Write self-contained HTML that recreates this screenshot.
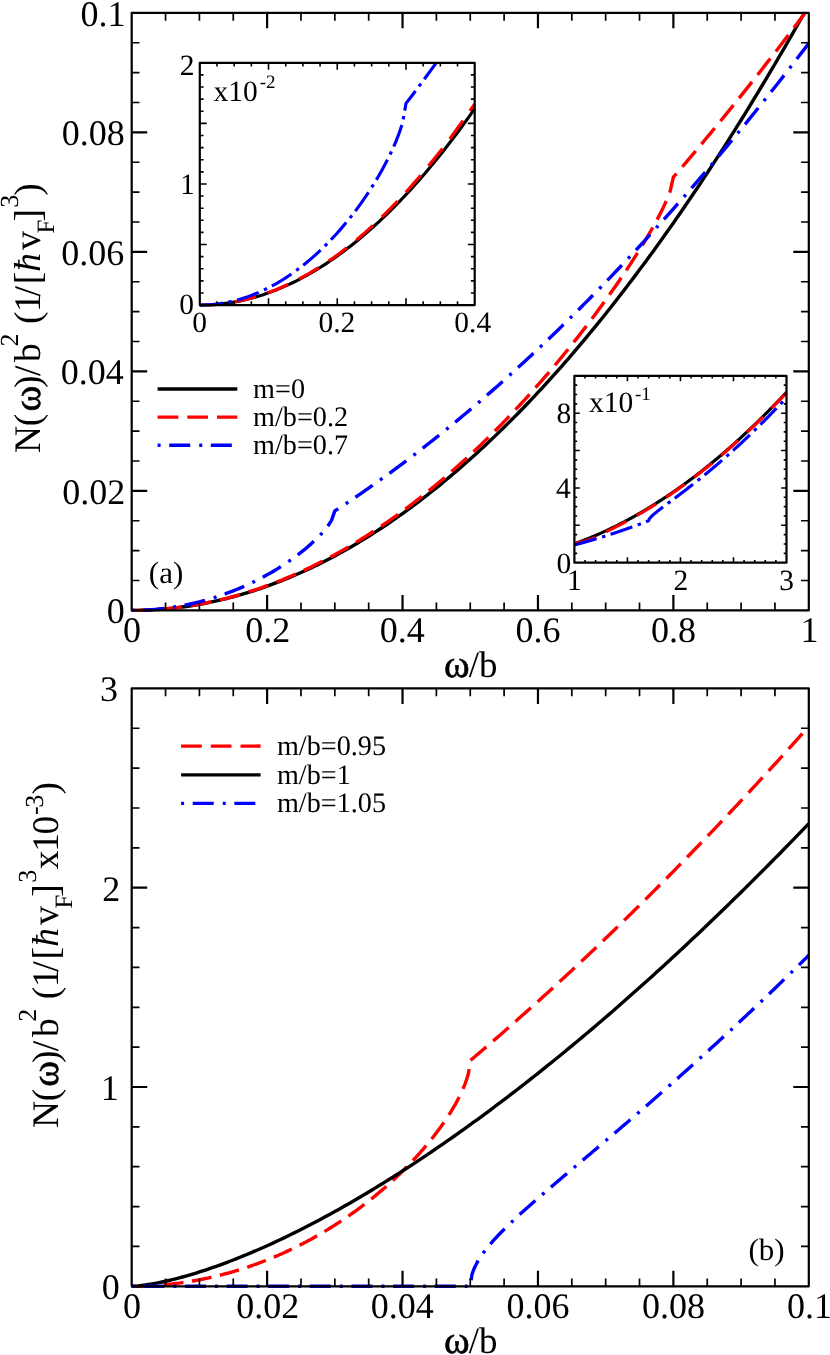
<!DOCTYPE html>
<html><head><meta charset="utf-8"><title>chart</title>
<style>html,body{margin:0;padding:0;background:#fff}svg{display:block;will-change:transform}</style></head>
<body>
<svg width="830" height="1355" viewBox="0 0 830 1355" font-family="'Liberation Serif', serif" fill="#000" text-rendering="geometricPrecision">
<rect width="830" height="1355" fill="#fff"/>
<clipPath id="c1"><rect x="130.00" y="12.85" width="680.50" height="599.25"/></clipPath>
<g clip-path="url(#c1)" fill="none" stroke-width="3.4" stroke-linejoin="round">
<polyline points="131.70,610.40 135.09,610.38 138.47,610.34 141.86,610.26 145.24,610.16 148.63,610.02 152.01,609.86 155.40,609.66 158.78,609.43 162.17,609.17 165.55,608.89 168.94,608.57 172.33,608.22 175.71,607.84 179.10,607.43 182.48,606.99 185.87,606.53 189.25,606.03 192.64,605.50 196.02,604.94 199.41,604.35 202.80,603.72 206.18,603.07 209.57,602.39 212.95,601.68 216.34,600.94 219.72,600.17 223.11,599.37 226.49,598.53 229.88,597.67 233.26,596.78 236.65,595.85 240.04,594.90 243.42,593.92 246.81,592.90 250.19,591.86 253.58,590.78 256.96,589.68 260.35,588.54 263.73,587.38 267.12,586.18 270.51,584.96 273.89,583.70 277.28,582.41 280.66,581.10 284.05,579.75 287.43,578.37 290.82,576.96 294.20,575.53 297.59,574.06 300.97,572.56 304.36,571.03 307.75,569.47 311.13,567.88 314.52,566.26 317.90,564.61 321.29,562.93 324.67,561.22 328.06,559.48 331.44,557.71 334.83,555.91 338.22,554.08 341.60,552.22 344.99,550.32 348.37,548.40 351.76,546.45 355.14,544.47 358.53,542.45 361.91,540.41 365.30,538.34 368.68,536.23 372.07,534.10 375.46,531.93 378.84,529.74 382.23,527.51 385.61,525.26 389.00,522.97 392.38,520.66 395.77,518.31 399.15,515.94 402.54,513.53 405.93,511.09 409.31,508.62 412.70,506.13 416.08,503.60 419.47,501.04 422.85,498.45 426.24,495.83 429.62,493.19 433.01,490.51 436.39,487.80 439.78,485.06 443.17,482.29 446.55,479.49 449.94,476.66 453.32,473.80 456.71,470.91 460.09,467.98 463.48,465.03 466.86,462.05 470.25,459.04 473.64,456.00 477.02,452.92 480.41,449.82 483.79,446.69 487.18,443.52 490.56,440.33 493.95,437.11 497.33,433.85 500.72,430.57 504.10,427.25 507.49,423.91 510.88,420.53 514.26,417.13 517.65,413.69 521.03,410.22 524.42,406.73 527.80,403.20 531.19,399.64 534.57,396.06 537.96,392.44 541.35,388.79 544.73,385.11 548.12,381.41 551.50,377.67 554.89,373.90 558.27,370.10 561.66,366.27 565.04,362.41 568.43,358.52 571.81,354.60 575.20,350.65 578.59,346.67 581.97,342.66 585.36,338.62 588.74,334.54 592.13,330.44 595.51,326.31 598.90,322.15 602.28,317.96 605.67,313.73 609.06,309.48 612.44,305.20 615.83,300.88 619.21,296.54 622.60,292.16 625.98,287.76 629.37,283.32 632.75,278.86 636.14,274.36 639.52,269.84 642.91,265.28 646.30,260.70 649.68,256.08 653.07,251.43 656.45,246.75 659.84,242.05 663.22,237.31 666.61,232.54 669.99,227.74 673.38,222.92 676.77,218.06 680.15,213.17 683.54,208.25 686.92,203.30 690.31,198.32 693.69,193.31 697.08,188.27 700.46,183.20 703.85,178.10 707.23,172.97 710.62,167.80 714.01,162.61 717.39,157.39 720.78,152.14 724.16,146.86 727.55,141.54 730.93,136.20 734.32,130.83 737.70,125.42 741.09,119.99 744.48,114.53 747.86,109.03 751.25,103.51 754.63,97.95 758.02,92.37 761.40,86.75 764.79,81.11 768.17,75.43 771.56,69.72 774.94,63.99 778.33,58.22 781.72,52.42 785.10,46.59 788.49,40.74 791.87,34.85 795.26,28.93 798.64,22.98 802.03,17.00 805.41,10.99 808.80,4.96" stroke="#000000"/>
<polyline points="131.70,610.40 135.09,610.38 138.47,610.34 141.86,610.26 145.24,610.15 148.63,610.01 152.01,609.84 155.40,609.64 158.78,609.41 162.17,609.15 165.55,608.86 168.94,608.53 172.33,608.18 175.71,607.79 179.10,607.37 182.48,606.92 185.87,606.44 189.25,605.93 192.64,605.39 196.02,604.82 199.41,604.22 202.80,603.59 206.18,602.92 209.57,602.23 212.95,601.50 216.34,600.74 219.72,599.95 223.11,599.13 226.49,598.28 229.88,597.40 233.26,596.49 236.65,595.55 240.04,594.57 243.42,593.57 246.81,592.53 250.19,591.46 253.58,590.36 256.96,589.24 260.35,588.07 263.73,586.88 267.12,585.66 270.51,584.41 273.89,583.12 277.28,581.81 280.66,580.46 284.05,579.08 287.43,577.67 290.82,576.23 294.20,574.76 297.59,573.26 300.97,571.72 304.36,570.16 307.75,568.56 311.13,566.93 314.52,565.28 317.90,563.59 321.29,561.86 324.67,560.11 328.06,558.33 331.44,556.51 334.83,554.67 338.22,552.79 341.60,550.88 344.99,548.94 348.37,546.97 351.76,544.96 355.14,542.93 358.53,540.86 361.91,538.76 365.30,536.63 368.68,534.47 372.07,532.28 375.46,530.05 378.84,527.80 382.23,525.51 385.61,523.19 389.00,520.84 392.38,518.45 395.77,516.04 399.15,513.59 402.54,511.11 405.93,508.60 409.31,506.06 412.70,503.48 416.08,500.88 419.47,498.24 422.85,495.57 426.24,492.86 429.62,490.13 433.01,487.36 436.39,484.56 439.78,481.72 443.17,478.86 446.55,475.96 449.94,473.03 453.32,470.06 456.71,467.07 460.09,464.04 463.48,460.97 466.86,457.88 470.25,454.75 473.64,451.59 477.02,448.39 480.41,445.16 483.79,441.90 487.18,438.60 490.56,435.27 493.95,431.90 497.33,428.50 500.72,425.07 504.10,421.60 507.49,418.10 510.88,414.56 514.26,410.99 517.65,407.38 521.03,403.74 524.42,400.06 527.80,396.35 531.19,392.60 534.57,388.81 537.96,384.99 541.35,381.12 544.73,377.23 548.12,373.29 551.50,369.32 554.89,365.30 558.27,361.25 561.66,357.16 565.04,353.03 568.43,348.86 571.81,344.64 575.20,340.39 578.59,336.09 581.97,331.75 585.36,327.36 588.74,322.93 592.13,318.45 595.51,313.93 598.90,309.35 602.28,304.72 605.67,300.05 609.06,295.31 612.44,290.52 615.83,285.67 619.21,280.76 622.60,275.79 625.98,270.74 629.37,265.62 632.75,260.41 636.14,255.12 639.52,249.74 642.91,244.24 646.30,238.62 649.68,232.86 653.07,226.94 656.45,220.80 659.84,214.40 663.22,207.64 666.61,200.31 669.99,191.93 673.38,177.18 676.77,173.25 680.15,169.30 683.54,165.33 686.92,161.35 690.31,157.36 693.69,153.35 697.08,149.32 700.46,145.28 703.85,141.23 707.23,137.16 710.62,133.07 714.01,128.97 717.39,124.86 720.78,120.73 724.16,116.58 727.55,112.42 730.93,108.24 734.32,104.05 737.70,99.84 741.09,95.62 744.48,91.38 747.86,87.13 751.25,82.86 754.63,78.58 758.02,74.28 761.40,69.97 764.79,65.64 768.17,61.30 771.56,56.94 774.94,52.56 778.33,48.18 781.72,43.77 785.10,39.35 788.49,34.92 791.87,30.47 795.26,26.00 798.64,21.52 802.03,17.03 805.41,12.52 808.80,7.99" stroke="#ff0000" stroke-dasharray="20.7 9"/>
<polyline points="131.70,610.40 135.09,610.38 138.47,610.32 141.86,610.21 145.24,610.06 148.63,609.87 152.01,609.64 155.40,609.36 158.78,609.04 162.17,608.68 165.55,608.28 168.94,607.83 172.33,607.34 175.71,606.80 179.10,606.23 182.48,605.61 185.87,604.94 189.25,604.23 192.64,603.48 196.02,602.68 199.41,601.84 202.80,600.95 206.18,600.02 209.57,599.04 212.95,598.01 216.34,596.94 219.72,595.82 223.11,594.65 226.49,593.44 229.88,592.18 233.26,590.86 236.65,589.50 240.04,588.09 243.42,586.62 246.81,585.11 250.19,583.53 253.58,581.91 256.96,580.23 260.35,578.49 263.73,576.69 267.12,574.84 270.51,572.92 273.89,570.94 277.28,568.89 280.66,566.77 284.05,564.58 287.43,562.32 290.82,559.97 294.20,557.54 297.59,555.02 300.97,552.40 304.36,549.68 307.75,546.83 311.13,543.85 314.52,540.72 317.90,537.40 321.29,533.85 324.67,530.00 328.06,525.70 331.44,520.59 334.83,510.92 338.22,508.71 341.60,506.49 344.99,504.25 348.37,501.99 351.76,499.72 355.14,497.43 358.53,495.12 361.91,492.79 365.30,490.45 368.68,488.09 372.07,485.72 375.46,483.33 378.84,480.92 382.23,478.49 385.61,476.05 389.00,473.59 392.38,471.12 395.77,468.62 399.15,466.11 402.54,463.59 405.93,461.04 409.31,458.49 412.70,455.91 416.08,453.32 419.47,450.71 422.85,448.08 426.24,445.44 429.62,442.78 433.01,440.11 436.39,437.42 439.78,434.71 443.17,431.98 446.55,429.24 449.94,426.48 453.32,423.71 456.71,420.92 460.09,418.11 463.48,415.29 466.86,412.45 470.25,409.60 473.64,406.72 477.02,403.84 480.41,400.93 483.79,398.01 487.18,395.07 490.56,392.12 493.95,389.15 497.33,386.17 500.72,383.16 504.10,380.15 507.49,377.11 510.88,374.06 514.26,370.99 517.65,367.91 521.03,364.81 524.42,361.70 527.80,358.57 531.19,355.42 534.57,352.25 537.96,349.08 541.35,345.88 544.73,342.67 548.12,339.44 551.50,336.20 554.89,332.94 558.27,329.66 561.66,326.37 565.04,323.06 568.43,319.74 571.81,316.40 575.20,313.04 578.59,309.67 581.97,306.28 585.36,302.88 588.74,299.46 592.13,296.02 595.51,292.57 598.90,289.10 602.28,285.62 605.67,282.12 609.06,278.60 612.44,275.07 615.83,271.52 619.21,267.96 622.60,264.38 625.98,260.79 629.37,257.17 632.75,253.55 636.14,249.91 639.52,246.25 642.91,242.57 646.30,238.88 649.68,235.18 653.07,231.46 656.45,227.72 659.84,223.96 663.22,220.20 666.61,216.41 669.99,212.61 673.38,208.79 676.77,204.96 680.15,201.11 683.54,197.25 686.92,193.37 690.31,189.47 693.69,185.56 697.08,181.64 700.46,177.69 703.85,173.74 707.23,169.76 710.62,165.77 714.01,161.77 717.39,157.75 720.78,153.71 724.16,149.66 727.55,145.59 730.93,141.50 734.32,137.40 737.70,133.29 741.09,129.16 744.48,125.01 747.86,120.85 751.25,116.67 754.63,112.48 758.02,108.27 761.40,104.04 764.79,99.80 768.17,95.54 771.56,91.27 774.94,86.99 778.33,82.68 781.72,78.36 785.10,74.03 788.49,69.68 791.87,65.31 795.26,60.93 798.64,56.53 802.03,52.12 805.41,47.69 808.80,43.25" stroke="#0000ff" stroke-dasharray="3 8.6 21 9.03"/>
</g>
<path d="M267.12 610.40L267.12 594.90M267.12 12.85L267.12 28.35M402.54 610.40L402.54 594.90M402.54 12.85L402.54 28.35M537.96 610.40L537.96 594.90M537.96 12.85L537.96 28.35M673.38 610.40L673.38 594.90M673.38 12.85L673.38 28.35M131.70 490.89L147.20 490.89M808.80 490.89L793.30 490.89M131.70 371.38L147.20 371.38M808.80 371.38L793.30 371.38M131.70 251.87L147.20 251.87M808.80 251.87L793.30 251.87M131.70 132.36L147.20 132.36M808.80 132.36L793.30 132.36" stroke="#000" stroke-width="2.2" fill="none"/>
<path d="M165.55 610.40L165.55 602.60M165.55 12.85L165.55 20.65M199.41 610.40L199.41 602.60M199.41 12.85L199.41 20.65M233.26 610.40L233.26 602.60M233.26 12.85L233.26 20.65M300.97 610.40L300.97 602.60M300.97 12.85L300.97 20.65M334.83 610.40L334.83 602.60M334.83 12.85L334.83 20.65M368.68 610.40L368.68 602.60M368.68 12.85L368.68 20.65M436.39 610.40L436.39 602.60M436.39 12.85L436.39 20.65M470.25 610.40L470.25 602.60M470.25 12.85L470.25 20.65M504.10 610.40L504.10 602.60M504.10 12.85L504.10 20.65M571.81 610.40L571.81 602.60M571.81 12.85L571.81 20.65M605.67 610.40L605.67 602.60M605.67 12.85L605.67 20.65M639.52 610.40L639.52 602.60M639.52 12.85L639.52 20.65M707.23 610.40L707.23 602.60M707.23 12.85L707.23 20.65M741.09 610.40L741.09 602.60M741.09 12.85L741.09 20.65M774.94 610.40L774.94 602.60M774.94 12.85L774.94 20.65M131.70 580.52L139.50 580.52M808.80 580.52L801.00 580.52M131.70 550.64L139.50 550.64M808.80 550.64L801.00 550.64M131.70 520.77L139.50 520.77M808.80 520.77L801.00 520.77M131.70 461.01L139.50 461.01M808.80 461.01L801.00 461.01M131.70 431.13L139.50 431.13M808.80 431.13L801.00 431.13M131.70 401.26L139.50 401.26M808.80 401.26L801.00 401.26M131.70 341.50L139.50 341.50M808.80 341.50L801.00 341.50M131.70 311.62L139.50 311.62M808.80 311.62L801.00 311.62M131.70 281.75L139.50 281.75M808.80 281.75L801.00 281.75M131.70 221.99L139.50 221.99M808.80 221.99L801.00 221.99M131.70 192.11L139.50 192.11M808.80 192.11L801.00 192.11M131.70 162.24L139.50 162.24M808.80 162.24L801.00 162.24M131.70 102.48L139.50 102.48M808.80 102.48L801.00 102.48M131.70 72.61L139.50 72.61M808.80 72.61L801.00 72.61M131.70 42.73L139.50 42.73M808.80 42.73L801.00 42.73" stroke="#000" stroke-width="1.7" fill="none"/>
<rect x="131.7" y="12.85" width="677.10" height="597.55" fill="none" stroke="#000" stroke-width="2.2" stroke-linejoin="round"/>
<text x="80.46" y="25.55" font-size="36">0.1</text>
<text x="61.67" y="145.06" font-size="36">0.08</text>
<text x="61.37" y="264.57" font-size="36">0.06</text>
<text x="60.86" y="384.08" font-size="36">0.04</text>
<text x="62.29" y="503.59" font-size="36">0.02</text>
<text x="106.67" y="623.10" font-size="36">0</text>
<text x="122.90" y="642.30" font-size="36">0</text>
<text x="245.13" y="642.30" font-size="36">0.2</text>
<text x="379.84" y="642.30" font-size="36">0.4</text>
<text x="515.51" y="642.30" font-size="36">0.6</text>
<text x="651.08" y="642.30" font-size="36">0.8</text>
<text x="800.50" y="642.30" font-size="36">1</text>
<clipPath id="c2"><rect x="198.23" y="62.80" width="278.05" height="243.88"/></clipPath>
<g clip-path="url(#c2)" fill="none" stroke-width="3.15" stroke-linejoin="round">
<polyline points="199.80,305.10 203.24,305.07 206.67,304.98 210.11,304.82 213.55,304.61 216.98,304.33 220.42,304.00 223.85,303.60 227.29,303.14 230.73,302.61 234.16,302.03 237.60,301.39 241.03,300.68 244.47,299.91 247.91,299.09 251.34,298.20 254.78,297.24 258.22,296.23 261.65,295.16 265.09,294.02 268.52,292.82 271.96,291.57 275.40,290.25 278.83,288.87 282.27,287.42 285.71,285.92 289.14,284.36 292.58,282.73 296.01,281.04 299.45,279.29 302.89,277.48 306.32,275.61 309.76,273.68 313.20,271.68 316.63,269.63 320.07,267.51 323.50,265.33 326.94,263.09 330.38,260.79 333.81,258.42 337.25,256.00 340.69,253.51 344.12,250.97 347.56,248.36 351.00,245.69 354.43,242.96 357.87,240.16 361.30,237.31 364.74,234.40 368.18,231.42 371.61,228.38 375.05,225.28 378.49,222.12 381.92,218.90 385.36,215.61 388.79,212.27 392.23,208.86 395.67,205.40 399.10,201.87 402.54,198.28 405.97,194.62 409.41,190.91 412.85,187.14 416.28,183.30 419.72,179.40 423.16,175.44 426.59,171.42 430.03,167.34 433.46,163.20 436.90,159.00 440.34,154.73 443.77,150.40 447.21,146.02 450.65,141.57 454.08,137.05 457.52,132.48 460.95,127.85 464.39,123.15 467.83,118.40 471.26,113.58 474.70,108.70" stroke="#000000"/>
<polyline points="199.80,305.10 203.24,305.07 206.67,304.97 210.11,304.82 213.55,304.60 216.98,304.32 220.42,303.97 223.85,303.57 227.29,303.10 230.73,302.56 234.16,301.97 237.60,301.31 241.03,300.59 244.47,299.81 247.91,298.96 251.34,298.05 254.78,297.08 258.22,296.05 261.65,294.95 265.09,293.79 268.52,292.57 271.96,291.28 275.40,289.94 278.83,288.53 282.27,287.05 285.71,285.52 289.14,283.92 292.58,282.26 296.01,280.53 299.45,278.75 302.89,276.90 306.32,274.98 309.76,273.01 313.20,270.97 316.63,268.87 320.07,266.71 323.50,264.48 326.94,262.19 330.38,259.84 333.81,257.42 337.25,254.94 340.69,252.40 344.12,249.80 347.56,247.13 351.00,244.40 354.43,241.60 357.87,238.75 361.30,235.82 364.74,232.84 368.18,229.79 371.61,226.68 375.05,223.51 378.49,220.28 381.92,216.98 385.36,213.61 388.79,210.19 392.23,206.70 395.67,203.14 399.10,199.53 402.54,195.85 405.97,192.10 409.41,188.29 412.85,184.42 416.28,180.49 419.72,176.49 423.16,172.43 426.59,168.30 430.03,164.11 433.46,159.86 436.90,155.54 440.34,151.16 443.77,146.71 447.21,142.20 450.65,137.63 454.08,132.99 457.52,128.28 460.95,123.52 464.39,118.68 467.83,113.79 471.26,108.83 474.70,103.80" stroke="#ff0000" stroke-dasharray="22.5 12.06"/>
<polyline points="199.80,305.10 203.24,305.06 206.67,304.93 210.11,304.71 213.55,304.41 216.98,304.03 220.42,303.55 223.85,302.99 227.29,302.35 230.73,301.61 234.16,300.79 237.60,299.89 241.03,298.89 244.47,297.81 247.91,296.64 251.34,295.38 254.78,294.03 258.22,292.59 261.65,291.07 265.09,289.45 268.52,287.74 271.96,285.94 275.40,284.05 278.83,282.06 282.27,279.98 285.71,277.81 289.14,275.54 292.58,273.18 296.01,270.71 299.45,268.15 302.89,265.49 306.32,262.73 309.76,259.86 313.20,256.89 316.63,253.82 320.07,250.63 323.50,247.34 326.94,243.93 330.38,240.40 333.81,236.76 337.25,233.00 340.69,229.11 344.12,225.09 347.56,220.94 351.00,216.64 354.43,212.20 357.87,207.61 361.30,202.86 364.74,197.93 368.18,192.82 371.61,187.51 375.05,181.98 378.49,176.22 381.92,170.18 385.36,163.82 388.79,157.09 392.23,149.90 395.67,142.09 399.10,133.37 402.54,123.01 405.97,103.40 409.41,98.93 412.85,94.42 416.28,89.88 419.72,85.31 423.16,80.70 426.59,76.05 430.03,71.37 433.46,66.66 436.90,61.91 440.34,57.13 443.77,52.32 447.21,47.47 450.65,42.58 454.08,37.67 457.52,32.71 460.95,27.73 464.39,22.71 467.83,17.65 471.26,12.57 474.70,7.45" stroke="#0000ff" stroke-dasharray="23 5.8 3.4 5.46"/>
</g>
<path d="M268.52 305.10L268.52 298.20M268.52 62.80L268.52 69.70M337.25 305.10L337.25 298.20M337.25 62.80L337.25 69.70M405.98 305.10L405.98 298.20M405.98 62.80L405.98 69.70M199.80 244.53L206.70 244.53M474.70 244.53L467.80 244.53M199.80 183.95L206.70 183.95M474.70 183.95L467.80 183.95M199.80 123.38L206.70 123.38M474.70 123.38L467.80 123.38" stroke="#000" stroke-width="1.6" fill="none"/>
<path d="M216.98 305.10L216.98 301.30M216.98 62.80L216.98 66.60M234.16 305.10L234.16 301.30M234.16 62.80L234.16 66.60M251.34 305.10L251.34 301.30M251.34 62.80L251.34 66.60M285.71 305.10L285.71 301.30M285.71 62.80L285.71 66.60M302.89 305.10L302.89 301.30M302.89 62.80L302.89 66.60M320.07 305.10L320.07 301.30M320.07 62.80L320.07 66.60M354.43 305.10L354.43 301.30M354.43 62.80L354.43 66.60M371.61 305.10L371.61 301.30M371.61 62.80L371.61 66.60M388.79 305.10L388.79 301.30M388.79 62.80L388.79 66.60M423.16 305.10L423.16 301.30M423.16 62.80L423.16 66.60M440.34 305.10L440.34 301.30M440.34 62.80L440.34 66.60M457.52 305.10L457.52 301.30M457.52 62.80L457.52 66.60M199.80 292.99L203.60 292.99M474.70 292.99L470.90 292.99M199.80 280.87L203.60 280.87M474.70 280.87L470.90 280.87M199.80 268.75L203.60 268.75M474.70 268.75L470.90 268.75M199.80 256.64L203.60 256.64M474.70 256.64L470.90 256.64M199.80 232.41L203.60 232.41M474.70 232.41L470.90 232.41M199.80 220.30L203.60 220.30M474.70 220.30L470.90 220.30M199.80 208.18L203.60 208.18M474.70 208.18L470.90 208.18M199.80 196.06L203.60 196.06M474.70 196.06L470.90 196.06M199.80 171.84L203.60 171.84M474.70 171.84L470.90 171.84M199.80 159.72L203.60 159.72M474.70 159.72L470.90 159.72M199.80 147.61L203.60 147.61M474.70 147.61L470.90 147.61M199.80 135.49L203.60 135.49M474.70 135.49L470.90 135.49M199.80 111.26L203.60 111.26M474.70 111.26L470.90 111.26M199.80 99.14L203.60 99.14M474.70 99.14L470.90 99.14M199.80 87.03L203.60 87.03M474.70 87.03L470.90 87.03M199.80 74.91L203.60 74.91M474.70 74.91L470.90 74.91" stroke="#000" stroke-width="1.6" fill="none"/>
<rect x="199.8" y="62.8" width="274.90" height="242.30" fill="none" stroke="#000" stroke-width="2.2" stroke-linejoin="round"/>
<text x="179.27" y="314.40" font-size="29.5">0</text>
<text x="179.92" y="194.00" font-size="29.5">1</text>
<text x="179.78" y="74.50" font-size="29.5">2</text>
<text x="192.32" y="331.70" font-size="29.5">0</text>
<text x="318.41" y="331.70" font-size="29.5">0.2</text>
<text x="454.33" y="331.70" font-size="29.5">0.4</text>
<text x="213.54" y="101.00" font-size="29.5">x10</text>
<text x="259.79" y="88.40" font-size="19">-2</text>
<clipPath id="c3"><rect x="572.82" y="375.80" width="215.25" height="188.48"/></clipPath>
<g clip-path="url(#c3)" fill="none" stroke-width="3.15" stroke-linejoin="round">
<polyline points="574.40,543.76 574.93,543.57 575.46,543.38 575.99,543.19 576.52,543.00 577.05,542.80 577.58,542.61 578.11,542.41 578.64,542.22 579.17,542.02 579.70,541.82 580.23,541.62 580.76,541.42 581.29,541.22 581.82,541.02 582.35,540.82 582.88,540.61 583.41,540.41 583.94,540.20 584.47,539.99 585.00,539.79 585.54,539.58 586.07,539.37 586.60,539.16 587.13,538.95 587.66,538.73 588.19,538.52 588.72,538.30 589.25,538.09 589.78,537.87 590.31,537.66 590.84,537.44 591.37,537.22 591.90,537.00 592.43,536.78 592.96,536.56 593.49,536.33 594.02,536.11 594.55,535.88 595.08,535.66 595.61,535.43 596.14,535.20 596.67,534.97 597.20,534.74 597.73,534.51 598.26,534.28 598.79,534.05 599.32,533.82 599.85,533.58 600.38,533.35 600.91,533.11 601.44,532.87 601.97,532.64 602.50,532.40 603.03,532.16 603.56,531.92 604.09,531.67 604.62,531.43 605.15,531.19 605.68,530.94 606.22,530.70 606.75,530.45 607.28,530.20 607.81,529.95 608.34,529.70 608.87,529.45 609.40,529.20 609.93,528.95 610.46,528.70 610.99,528.44 611.52,528.19 612.05,527.93 612.58,527.67 613.11,527.42 613.64,527.16 614.17,526.90 614.70,526.64 615.23,526.37 615.76,526.11 616.29,525.85 616.82,525.58 617.35,525.32 617.88,525.05 618.41,524.78 618.94,524.52 619.47,524.25 620.00,523.98 620.53,523.70 621.06,523.43 621.59,523.16 622.12,522.89 622.65,522.61 623.18,522.33 623.71,522.06 624.24,521.78 624.77,521.50 625.30,521.22 625.83,520.94 626.36,520.66 626.89,520.38 627.42,520.09 627.96,519.81 628.49,519.52 629.02,519.24 629.55,518.95 630.08,518.66 630.61,518.37 631.14,518.08 631.67,517.79 632.20,517.50 632.73,517.20 633.26,516.91 633.79,516.62 634.32,516.32 634.85,516.02 635.38,515.72 635.91,515.43 636.44,515.13 636.97,514.83 637.50,514.52 638.03,514.22 638.56,513.92 639.09,513.61 639.62,513.31 640.15,513.00 640.68,512.69 641.21,512.39 641.74,512.08 642.27,511.77 642.80,511.46 643.33,511.14 643.86,510.83 644.39,510.52 644.92,510.20 645.45,509.89 645.98,509.57 646.51,509.25 647.04,508.93 647.57,508.61 648.10,508.29 648.63,507.97 649.17,507.65 649.70,507.33 650.23,507.00 650.76,506.68 651.29,506.35 651.82,506.02 652.35,505.70 652.88,505.37 653.41,505.04 653.94,504.71 654.47,504.37 655.00,504.04 655.53,503.71 656.06,503.37 656.59,503.04 657.12,502.70 657.65,502.36 658.18,502.02 658.71,501.68 659.24,501.34 659.77,501.00 660.30,500.66 660.83,500.32 661.36,499.97 661.89,499.63 662.42,499.28 662.95,498.94 663.48,498.59 664.01,498.24 664.54,497.89 665.07,497.54 665.60,497.19 666.13,496.83 666.66,496.48 667.19,496.12 667.72,495.77 668.25,495.41 668.78,495.06 669.31,494.70 669.85,494.34 670.38,493.98 670.91,493.62 671.44,493.25 671.97,492.89 672.50,492.53 673.03,492.16 673.56,491.80 674.09,491.43 674.62,491.06 675.15,490.69 675.68,490.32 676.21,489.95 676.74,489.58 677.27,489.21 677.80,488.83 678.33,488.46 678.86,488.08 679.39,487.71 679.92,487.33 680.45,486.95 680.98,486.57 681.51,486.19 682.04,485.81 682.57,485.43 683.10,485.05 683.63,484.66 684.16,484.28 684.69,483.89 685.22,483.51 685.75,483.12 686.28,482.73 686.81,482.34 687.34,481.95 687.87,481.56 688.40,481.16 688.93,480.77 689.46,480.38 689.99,479.98 690.52,479.59 691.05,479.19 691.59,478.79 692.12,478.39 692.65,477.99 693.18,477.59 693.71,477.19 694.24,476.79 694.77,476.38 695.30,475.98 695.83,475.57 696.36,475.16 696.89,474.76 697.42,474.35 697.95,473.94 698.48,473.53 699.01,473.12 699.54,472.70 700.07,472.29 700.60,471.88 701.13,471.46 701.66,471.05 702.19,470.63 702.72,470.21 703.25,469.79 703.78,469.37 704.31,468.95 704.84,468.53 705.37,468.11 705.90,467.68 706.43,467.26 706.96,466.83 707.49,466.41 708.02,465.98 708.55,465.55 709.08,465.12 709.61,464.69 710.14,464.26 710.67,463.83 711.20,463.39 711.73,462.96 712.26,462.52 712.80,462.09 713.33,461.65 713.86,461.21 714.39,460.77 714.92,460.33 715.45,459.89 715.98,459.45 716.51,459.01 717.04,458.57 717.57,458.12 718.10,457.68 718.63,457.23 719.16,456.78 719.69,456.33 720.22,455.88 720.75,455.43 721.28,454.98 721.81,454.53 722.34,454.08 722.87,453.62 723.40,453.17 723.93,452.71 724.46,452.26 724.99,451.80 725.52,451.34 726.05,450.88 726.58,450.42 727.11,449.96 727.64,449.49 728.17,449.03 728.70,448.57 729.23,448.10 729.76,447.63 730.29,447.17 730.82,446.70 731.35,446.23 731.88,445.76 732.41,445.29 732.94,444.82 733.48,444.34 734.01,443.87 734.54,443.40 735.07,442.92 735.60,442.44 736.13,441.97 736.66,441.49 737.19,441.01 737.72,440.53 738.25,440.05 738.78,439.56 739.31,439.08 739.84,438.59 740.37,438.11 740.90,437.62 741.43,437.14 741.96,436.65 742.49,436.16 743.02,435.67 743.55,435.18 744.08,434.69 744.61,434.19 745.14,433.70 745.67,433.21 746.20,432.71 746.73,432.21 747.26,431.72 747.79,431.22 748.32,430.72 748.85,430.22 749.38,429.72 749.91,429.21 750.44,428.71 750.97,428.21 751.50,427.70 752.03,427.19 752.56,426.69 753.09,426.18 753.62,425.67 754.15,425.16 754.68,424.65 755.22,424.14 755.75,423.63 756.28,423.11 756.81,422.60 757.34,422.08 757.87,421.56 758.40,421.05 758.93,420.53 759.46,420.01 759.99,419.49 760.52,418.97 761.05,418.45 761.58,417.92 762.11,417.40 762.64,416.87 763.17,416.35 763.70,415.82 764.23,415.29 764.76,414.76 765.29,414.23 765.82,413.70 766.35,413.17 766.88,412.64 767.41,412.11 767.94,411.57 768.47,411.04 769.00,410.50 769.53,409.96 770.06,409.42 770.59,408.88 771.12,408.34 771.65,407.80 772.18,407.26 772.71,406.72 773.24,406.17 773.77,405.63 774.30,405.08 774.83,404.54 775.36,403.99 775.89,403.44 776.43,402.89 776.96,402.34 777.49,401.79 778.02,401.24 778.55,400.68 779.08,400.13 779.61,399.57 780.14,399.02 780.67,398.46 781.20,397.90 781.73,397.34 782.26,396.78 782.79,396.22 783.32,395.66 783.85,395.10 784.38,394.53 784.91,393.97 785.44,393.40 785.97,392.84 786.50,392.27" stroke="#000000"/>
<polyline points="574.40,543.86 574.93,543.72 575.46,543.57 575.99,543.43 576.52,543.29 577.05,543.14 577.58,543.00 578.11,542.85 578.64,542.71 579.17,542.56 579.70,542.42 580.23,542.27 580.76,542.12 581.29,541.97 581.82,541.83 582.35,541.68 582.88,541.53 583.41,541.38 583.94,541.23 584.47,541.08 585.00,540.93 585.54,540.78 586.07,540.62 586.60,540.47 587.13,540.32 587.66,540.16 588.19,540.01 588.72,539.86 589.25,539.70 589.78,539.55 590.31,539.39 590.84,539.23 591.37,539.08 591.90,538.92 592.43,538.76 592.96,538.60 593.49,538.45 594.02,538.29 594.55,538.13 595.08,537.97 595.61,537.81 596.14,537.13 596.67,536.75 597.20,536.41 597.73,536.10 598.26,535.80 598.79,535.51 599.32,535.23 599.85,534.95 600.38,534.67 600.91,534.40 601.44,534.13 601.97,533.86 602.50,533.59 603.03,533.33 603.56,533.06 604.09,532.80 604.62,532.53 605.15,532.27 605.68,532.01 606.22,531.74 606.75,531.48 607.28,531.22 607.81,530.95 608.34,530.69 608.87,530.43 609.40,530.16 609.93,529.90 610.46,529.63 610.99,529.37 611.52,529.10 612.05,528.83 612.58,528.56 613.11,528.30 613.64,528.03 614.17,527.76 614.70,527.49 615.23,527.22 615.76,526.95 616.29,526.68 616.82,526.40 617.35,526.13 617.88,525.86 618.41,525.58 618.94,525.31 619.47,525.03 620.00,524.76 620.53,524.48 621.06,524.20 621.59,523.92 622.12,523.64 622.65,523.36 623.18,523.08 623.71,522.80 624.24,522.51 624.77,522.23 625.30,521.95 625.83,521.66 626.36,521.37 626.89,521.09 627.42,520.80 627.96,520.51 628.49,520.22 629.02,519.93 629.55,519.64 630.08,519.35 630.61,519.05 631.14,518.76 631.67,518.46 632.20,518.17 632.73,517.87 633.26,517.57 633.79,517.28 634.32,516.98 634.85,516.68 635.38,516.38 635.91,516.07 636.44,515.77 636.97,515.47 637.50,515.16 638.03,514.86 638.56,514.55 639.09,514.24 639.62,513.94 640.15,513.63 640.68,513.32 641.21,513.01 641.74,512.70 642.27,512.38 642.80,512.07 643.33,511.75 643.86,511.44 644.39,511.12 644.92,510.81 645.45,510.49 645.98,510.17 646.51,509.85 647.04,509.53 647.57,509.21 648.10,508.88 648.63,508.56 649.17,508.24 649.70,507.91 650.23,507.59 650.76,507.26 651.29,506.93 651.82,506.60 652.35,506.27 652.88,505.94 653.41,505.61 653.94,505.28 654.47,504.94 655.00,504.61 655.53,504.27 656.06,503.94 656.59,503.60 657.12,503.26 657.65,502.92 658.18,502.58 658.71,502.24 659.24,501.90 659.77,501.56 660.30,501.21 660.83,500.87 661.36,500.52 661.89,500.18 662.42,499.83 662.95,499.48 663.48,499.13 664.01,498.78 664.54,498.43 665.07,498.08 665.60,497.72 666.13,497.37 666.66,497.02 667.19,496.66 667.72,496.30 668.25,495.95 668.78,495.59 669.31,495.23 669.85,494.87 670.38,494.51 670.91,494.14 671.44,493.78 671.97,493.42 672.50,493.05 673.03,492.68 673.56,492.32 674.09,491.95 674.62,491.58 675.15,491.21 675.68,490.84 676.21,490.47 676.74,490.10 677.27,489.72 677.80,489.35 678.33,488.97 678.86,488.60 679.39,488.22 679.92,487.84 680.45,487.46 680.98,487.08 681.51,486.70 682.04,486.32 682.57,485.94 683.10,485.55 683.63,485.17 684.16,484.78 684.69,484.39 685.22,484.01 685.75,483.62 686.28,483.23 686.81,482.84 687.34,482.45 687.87,482.05 688.40,481.66 688.93,481.27 689.46,480.87 689.99,480.48 690.52,480.08 691.05,479.68 691.59,479.28 692.12,478.88 692.65,478.48 693.18,478.08 693.71,477.68 694.24,477.27 694.77,476.87 695.30,476.46 695.83,476.06 696.36,475.65 696.89,475.24 697.42,474.83 697.95,474.42 698.48,474.01 699.01,473.60 699.54,473.19 700.07,472.77 700.60,472.36 701.13,471.94 701.66,471.53 702.19,471.11 702.72,470.69 703.25,470.27 703.78,469.85 704.31,469.43 704.84,469.01 705.37,468.58 705.90,468.16 706.43,467.73 706.96,467.31 707.49,466.88 708.02,466.45 708.55,466.02 709.08,465.59 709.61,465.16 710.14,464.73 710.67,464.30 711.20,463.86 711.73,463.43 712.26,462.99 712.80,462.56 713.33,462.12 713.86,461.68 714.39,461.24 714.92,460.80 715.45,460.36 715.98,459.92 716.51,459.47 717.04,459.03 717.57,458.59 718.10,458.14 718.63,457.69 719.16,457.24 719.69,456.80 720.22,456.35 720.75,455.90 721.28,455.44 721.81,454.99 722.34,454.54 722.87,454.08 723.40,453.63 723.93,453.17 724.46,452.71 724.99,452.26 725.52,451.80 726.05,451.34 726.58,450.88 727.11,450.41 727.64,449.95 728.17,449.49 728.70,449.02 729.23,448.56 729.76,448.09 730.29,447.62 730.82,447.15 731.35,446.68 731.88,446.21 732.41,445.74 732.94,445.27 733.48,444.80 734.01,444.32 734.54,443.85 735.07,443.37 735.60,442.89 736.13,442.42 736.66,441.94 737.19,441.46 737.72,440.98 738.25,440.49 738.78,440.01 739.31,439.53 739.84,439.04 740.37,438.56 740.90,438.07 741.43,437.58 741.96,437.10 742.49,436.61 743.02,436.12 743.55,435.62 744.08,435.13 744.61,434.64 745.14,434.14 745.67,433.65 746.20,433.15 746.73,432.66 747.26,432.16 747.79,431.66 748.32,431.16 748.85,430.66 749.38,430.16 749.91,429.66 750.44,429.15 750.97,428.65 751.50,428.14 752.03,427.64 752.56,427.13 753.09,426.62 753.62,426.11 754.15,425.60 754.68,425.09 755.22,424.58 755.75,424.06 756.28,423.55 756.81,423.04 757.34,422.52 757.87,422.00 758.40,421.49 758.93,420.97 759.46,420.45 759.99,419.93 760.52,419.41 761.05,418.88 761.58,418.36 762.11,417.84 762.64,417.31 763.17,416.78 763.70,416.26 764.23,415.73 764.76,415.20 765.29,414.67 765.82,414.14 766.35,413.61 766.88,413.07 767.41,412.54 767.94,412.01 768.47,411.47 769.00,410.93 769.53,410.40 770.06,409.86 770.59,409.32 771.12,408.78 771.65,408.24 772.18,407.69 772.71,407.15 773.24,406.61 773.77,406.06 774.30,405.52 774.83,404.97 775.36,404.42 775.89,403.87 776.43,403.32 776.96,402.77 777.49,402.22 778.02,401.67 778.55,401.11 779.08,400.56 779.61,400.00 780.14,399.45 780.67,398.89 781.20,398.33 781.73,397.77 782.26,397.21 782.79,396.65 783.32,396.09 783.85,395.52 784.38,394.96 784.91,394.40 785.44,393.83 785.97,393.26 786.50,392.69" stroke="#ff0000" stroke-dasharray="22.5 12.06"/>
<polyline points="574.40,544.96 574.93,544.82 575.46,544.68 575.99,544.54 576.52,544.40 577.05,544.26 577.58,544.12 578.11,543.97 578.64,543.83 579.17,543.69 579.70,543.54 580.23,543.40 580.76,543.25 581.29,543.11 581.82,542.96 582.35,542.82 582.88,542.67 583.41,542.52 583.94,542.38 584.47,542.23 585.00,542.08 585.54,541.93 586.07,541.78 586.60,541.63 587.13,541.48 587.66,541.33 588.19,541.18 588.72,541.02 589.25,540.87 589.78,540.72 590.31,540.56 590.84,540.41 591.37,540.26 591.90,540.10 592.43,539.95 592.96,539.79 593.49,539.63 594.02,539.48 594.55,539.32 595.08,539.16 595.61,539.00 596.14,538.84 596.67,538.68 597.20,538.52 597.73,538.36 598.26,538.20 598.79,538.04 599.32,537.88 599.85,537.72 600.38,537.55 600.91,537.39 601.44,537.23 601.97,537.06 602.50,536.90 603.03,536.73 603.56,536.57 604.09,536.40 604.62,536.24 605.15,536.07 605.68,535.90 606.22,535.73 606.75,535.56 607.28,535.39 607.81,535.23 608.34,535.06 608.87,534.88 609.40,534.71 609.93,534.54 610.46,534.37 610.99,534.20 611.52,534.02 612.05,533.85 612.58,533.68 613.11,533.50 613.64,533.33 614.17,533.15 614.70,532.98 615.23,532.80 615.76,532.62 616.29,532.45 616.82,532.27 617.35,532.09 617.88,531.91 618.41,531.73 618.94,531.55 619.47,531.37 620.00,531.19 620.53,531.01 621.06,530.83 621.59,530.65 622.12,530.47 622.65,530.28 623.18,530.10 623.71,529.91 624.24,529.73 624.77,529.55 625.30,529.36 625.83,529.17 626.36,528.99 626.89,528.80 627.42,528.61 627.96,528.43 628.49,528.24 629.02,528.05 629.55,527.86 630.08,527.67 630.61,527.48 631.14,527.29 631.67,527.10 632.20,526.91 632.73,526.71 633.26,526.52 633.79,526.33 634.32,526.13 634.85,525.94 635.38,525.75 635.91,525.55 636.44,525.36 636.97,525.16 637.50,524.96 638.03,524.77 638.56,524.57 639.09,524.37 639.62,524.17 640.15,523.97 640.68,523.77 641.21,523.57 641.74,523.37 642.27,523.17 642.80,522.97 643.33,522.77 643.86,522.57 644.39,522.36 644.92,522.16 645.45,521.96 645.98,521.75 646.51,521.55 647.04,521.34 647.57,521.14 648.10,520.93 648.63,520.73 649.17,519.17 649.70,518.39 650.23,517.74 650.76,517.15 651.29,516.60 651.82,516.08 652.35,515.58 652.88,515.10 653.41,514.63 653.94,514.17 654.47,513.72 655.00,513.28 655.53,512.84 656.06,512.41 656.59,511.98 657.12,511.56 657.65,511.14 658.18,510.72 658.71,510.31 659.24,509.89 659.77,509.48 660.30,509.08 660.83,508.67 661.36,508.27 661.89,507.86 662.42,507.46 662.95,507.06 663.48,506.66 664.01,506.26 664.54,505.86 665.07,505.46 665.60,505.06 666.13,504.67 666.66,504.27 667.19,503.87 667.72,503.48 668.25,503.08 668.78,502.69 669.31,502.29 669.85,501.89 670.38,501.50 670.91,501.10 671.44,500.71 671.97,500.31 672.50,499.91 673.03,499.52 673.56,499.12 674.09,498.72 674.62,498.33 675.15,497.93 675.68,497.53 676.21,497.13 676.74,496.74 677.27,496.34 677.80,495.94 678.33,495.54 678.86,495.14 679.39,494.74 679.92,494.34 680.45,493.93 680.98,493.53 681.51,493.13 682.04,492.73 682.57,492.32 683.10,491.92 683.63,491.51 684.16,491.11 684.69,490.70 685.22,490.29 685.75,489.89 686.28,489.48 686.81,489.07 687.34,488.66 687.87,488.25 688.40,487.84 688.93,487.43 689.46,487.02 689.99,486.61 690.52,486.19 691.05,485.78 691.59,485.37 692.12,484.95 692.65,484.53 693.18,484.12 693.71,483.70 694.24,483.28 694.77,482.86 695.30,482.45 695.83,482.02 696.36,481.60 696.89,481.18 697.42,480.76 697.95,480.34 698.48,479.91 699.01,479.49 699.54,479.06 700.07,478.64 700.60,478.21 701.13,477.78 701.66,477.35 702.19,476.92 702.72,476.49 703.25,476.06 703.78,475.63 704.31,475.20 704.84,474.77 705.37,474.33 705.90,473.90 706.43,473.46 706.96,473.02 707.49,472.59 708.02,472.15 708.55,471.71 709.08,471.27 709.61,470.83 710.14,470.39 710.67,469.95 711.20,469.50 711.73,469.06 712.26,468.61 712.80,468.17 713.33,467.72 713.86,467.27 714.39,466.83 714.92,466.38 715.45,465.93 715.98,465.48 716.51,465.03 717.04,464.57 717.57,464.12 718.10,463.67 718.63,463.21 719.16,462.76 719.69,462.30 720.22,461.84 720.75,461.38 721.28,460.92 721.81,460.46 722.34,460.00 722.87,459.54 723.40,459.08 723.93,458.61 724.46,458.15 724.99,457.68 725.52,457.22 726.05,456.75 726.58,456.28 727.11,455.82 727.64,455.35 728.17,454.88 728.70,454.40 729.23,453.93 729.76,453.46 730.29,452.98 730.82,452.51 731.35,452.03 731.88,451.56 732.41,451.08 732.94,450.60 733.48,450.12 734.01,449.64 734.54,449.16 735.07,448.68 735.60,448.20 736.13,447.71 736.66,447.23 737.19,446.74 737.72,446.25 738.25,445.77 738.78,445.28 739.31,444.79 739.84,444.30 740.37,443.81 740.90,443.32 741.43,442.82 741.96,442.33 742.49,441.84 743.02,441.34 743.55,440.84 744.08,440.35 744.61,439.85 745.14,439.35 745.67,438.85 746.20,438.35 746.73,437.85 747.26,437.35 747.79,436.84 748.32,436.34 748.85,435.83 749.38,435.33 749.91,434.82 750.44,434.31 750.97,433.80 751.50,433.29 752.03,432.78 752.56,432.27 753.09,431.76 753.62,431.24 754.15,430.73 754.68,430.21 755.22,429.70 755.75,429.18 756.28,428.66 756.81,428.14 757.34,427.62 757.87,427.10 758.40,426.58 758.93,426.06 759.46,425.53 759.99,425.01 760.52,424.48 761.05,423.96 761.58,423.43 762.11,422.90 762.64,422.37 763.17,421.84 763.70,421.31 764.23,420.78 764.76,420.25 765.29,419.71 765.82,419.18 766.35,418.64 766.88,418.11 767.41,417.57 767.94,417.03 768.47,416.49 769.00,415.95 769.53,415.41 770.06,414.87 770.59,414.33 771.12,413.78 771.65,413.24 772.18,412.69 772.71,412.15 773.24,411.60 773.77,411.05 774.30,410.50 774.83,409.95 775.36,409.40 775.89,408.85 776.43,408.30 776.96,407.74 777.49,407.19 778.02,406.63 778.55,406.08 779.08,405.52 779.61,404.96 780.14,404.40 780.67,403.84 781.20,403.28 781.73,402.72 782.26,402.15 782.79,401.59 783.32,401.02 783.85,400.46 784.38,399.89 784.91,399.32 785.44,398.75 785.97,398.18 786.50,397.61" stroke="#0000ff" stroke-dasharray="23 5.8 3.4 5.46"/>
</g>
<path d="M627.42 562.70L627.42 557.30M627.42 375.80L627.42 381.20M680.45 562.70L680.45 557.30M680.45 375.80L680.45 381.20M733.48 562.70L733.48 557.30M733.48 375.80L733.48 381.20M574.40 525.32L579.80 525.32M786.50 525.32L781.10 525.32M574.40 487.94L579.80 487.94M786.50 487.94L781.10 487.94M574.40 450.56L579.80 450.56M786.50 450.56L781.10 450.56M574.40 413.18L579.80 413.18M786.50 413.18L781.10 413.18" stroke="#000" stroke-width="1.6" fill="none"/>
<path d="M585.00 562.70L585.00 559.90M585.00 375.80L585.00 378.60M595.61 562.70L595.61 559.90M595.61 375.80L595.61 378.60M606.22 562.70L606.22 559.90M606.22 375.80L606.22 378.60M616.82 562.70L616.82 559.90M616.82 375.80L616.82 378.60M638.03 562.70L638.03 559.90M638.03 375.80L638.03 378.60M648.63 562.70L648.63 559.90M648.63 375.80L648.63 378.60M659.24 562.70L659.24 559.90M659.24 375.80L659.24 378.60M669.85 562.70L669.85 559.90M669.85 375.80L669.85 378.60M691.05 562.70L691.05 559.90M691.05 375.80L691.05 378.60M701.66 562.70L701.66 559.90M701.66 375.80L701.66 378.60M712.26 562.70L712.26 559.90M712.26 375.80L712.26 378.60M722.87 562.70L722.87 559.90M722.87 375.80L722.87 378.60M744.08 562.70L744.08 559.90M744.08 375.80L744.08 378.60M754.68 562.70L754.68 559.90M754.68 375.80L754.68 378.60M765.29 562.70L765.29 559.90M765.29 375.80L765.29 378.60M775.89 562.70L775.89 559.90M775.89 375.80L775.89 378.60M574.40 553.36L577.20 553.36M786.50 553.36L783.70 553.36M574.40 544.01L577.20 544.01M786.50 544.01L783.70 544.01M574.40 534.67L577.20 534.67M786.50 534.67L783.70 534.67M574.40 515.98L577.20 515.98M786.50 515.98L783.70 515.98M574.40 506.63L577.20 506.63M786.50 506.63L783.70 506.63M574.40 497.29L577.20 497.29M786.50 497.29L783.70 497.29M574.40 478.60L577.20 478.60M786.50 478.60L783.70 478.60M574.40 469.25L577.20 469.25M786.50 469.25L783.70 469.25M574.40 459.91L577.20 459.91M786.50 459.91L783.70 459.91M574.40 441.22L577.20 441.22M786.50 441.22L783.70 441.22M574.40 431.87L577.20 431.87M786.50 431.87L783.70 431.87M574.40 422.53L577.20 422.53M786.50 422.53L783.70 422.53M574.40 403.84L577.20 403.84M786.50 403.84L783.70 403.84M574.40 394.49L577.20 394.49M786.50 394.49L783.70 394.49M574.40 385.14L577.20 385.14M786.50 385.14L783.70 385.14" stroke="#000" stroke-width="1.6" fill="none"/>
<rect x="574.4" y="375.8" width="212.10" height="186.90" fill="none" stroke="#000" stroke-width="2.2" stroke-linejoin="round"/>
<text x="556.57" y="572.90" font-size="29.5">0</text>
<text x="555.91" y="498.14" font-size="29.5">4</text>
<text x="556.57" y="423.38" font-size="29.5">8</text>
<text x="566.91" y="590.40" font-size="29.5">1</text>
<text x="673.54" y="590.40" font-size="29.5">2</text>
<text x="779.30" y="590.40" font-size="29.5">3</text>
<text x="588.94" y="412.20" font-size="29.5">x10</text>
<text x="634.99" y="400.40" font-size="19">-1</text>
<line x1="157.6" y1="389" x2="237.3" y2="389" stroke="#000000" stroke-width="3.4"/>
<text x="253.11" y="397.80" font-size="28.2">m=0</text>
<line x1="157.6" y1="417.1" x2="237.3" y2="417.1" stroke="#ff0000" stroke-width="3.4" stroke-dasharray="20.7 9"/>
<text x="253.11" y="425.90" font-size="28.2">m/b=0.2</text>
<line x1="157.6" y1="445.2" x2="237.3" y2="445.2" stroke="#0000ff" stroke-width="3.4" stroke-dasharray="3 8.6 21 9.03"/>
<text x="253.11" y="454.00" font-size="28.2">m/b=0.7</text>
<text x="148.84" y="583.00" font-size="31">(a)</text>
<text x="444.08" y="676.90" font-size="39" stroke="#000" stroke-width="0.6">ω</text>
<text x="468.80" y="676.90" font-size="37">/b</text>
<g transform="translate(39.8,451.9) rotate(-90)">
<text x="-1.08" y="0.00" font-size="37.5">N</text>
<text x="25.75" y="0.00" font-size="37.5">(</text>
<text x="40.38" y="0.00" font-size="39" stroke="#000" stroke-width="0.6">ω</text>
<text x="63.99" y="0.00" font-size="37.5">)</text>
<text x="75.80" y="0.00" font-size="37.5">/</text>
<text x="90.00" y="0.00" font-size="37.5">b</text>
<text x="105.36" y="-22.10" font-size="26">2</text>
<text x="127.85" y="0.00" font-size="37.5">(</text>
<text x="140.00" y="0.00" font-size="37.5">1</text>
<text x="155.30" y="0.00" font-size="37.5">/</text>
<text x="167.62" y="0.00" font-size="37.5">[</text>
<text x="180.25" y="0.00" font-size="37.5" font-style="italic">ħ</text>
<text x="201.90" y="0.00" font-size="38">v</text>
<text x="218.48" y="14.00" font-size="25">F</text>
<text x="230.35" y="0.00" font-size="37.5">]</text>
<text x="244.26" y="-22.10" font-size="26">3</text>
<text x="256.19" y="0.00" font-size="37.5">)</text>
</g>
<clipPath id="c4"><rect x="130.00" y="688.40" width="680.50" height="599.60"/></clipPath>
<g clip-path="url(#c4)" fill="none" stroke-width="3.4" stroke-linejoin="round">
<polyline points="131.70,1286.30 133.39,1286.30 135.09,1286.28 136.78,1286.26 138.47,1286.24 140.16,1286.20 141.86,1286.15 143.55,1286.10 145.24,1286.04 146.93,1285.97 148.63,1285.90 150.32,1285.81 152.01,1285.72 153.71,1285.62 155.40,1285.51 157.09,1285.39 158.78,1285.26 160.48,1285.13 162.17,1284.99 163.86,1284.84 165.55,1284.68 167.25,1284.52 168.94,1284.34 170.63,1284.16 172.33,1283.97 174.02,1283.77 175.71,1283.56 177.40,1283.35 179.10,1283.12 180.79,1282.89 182.48,1282.65 184.18,1282.40 185.87,1282.15 187.56,1281.88 189.25,1281.61 190.95,1281.33 192.64,1281.04 194.33,1280.74 196.02,1280.44 197.72,1280.12 199.41,1279.80 201.10,1279.47 202.80,1279.13 204.49,1278.78 206.18,1278.43 207.87,1278.06 209.57,1277.69 211.26,1277.31 212.95,1276.92 214.64,1276.52 216.34,1276.12 218.03,1275.70 219.72,1275.28 221.42,1274.85 223.11,1274.41 224.80,1273.96 226.49,1273.50 228.19,1273.04 229.88,1272.56 231.57,1272.08 233.26,1271.59 234.96,1271.09 236.65,1270.58 238.34,1270.06 240.04,1269.53 241.73,1269.00 243.42,1268.45 245.11,1267.90 246.81,1267.34 248.50,1266.77 250.19,1266.19 251.89,1265.60 253.58,1265.00 255.27,1264.40 256.96,1263.78 258.66,1263.16 260.35,1262.53 262.04,1261.88 263.73,1261.23 265.43,1260.57 267.12,1259.90 268.81,1259.22 270.51,1258.54 272.20,1257.84 273.89,1257.13 275.58,1256.42 277.28,1255.69 278.97,1254.96 280.66,1254.21 282.35,1253.46 284.05,1252.69 285.74,1251.92 287.43,1251.14 289.13,1250.35 290.82,1249.54 292.51,1248.73 294.20,1247.91 295.90,1247.08 297.59,1246.24 299.28,1245.39 300.97,1244.53 302.67,1243.65 304.36,1242.77 306.05,1241.88 307.75,1240.98 309.44,1240.07 311.13,1239.15 312.82,1238.21 314.52,1237.27 316.21,1236.31 317.90,1235.35 319.60,1234.37 321.29,1233.39 322.98,1232.39 324.67,1231.38 326.37,1230.37 328.06,1229.34 329.75,1228.29 331.44,1227.24 333.14,1226.18 334.83,1225.10 336.52,1224.02 338.22,1222.92 339.91,1221.81 341.60,1220.69 343.29,1219.55 344.99,1218.41 346.68,1217.25 348.37,1216.08 350.06,1214.90 351.76,1213.70 353.45,1212.50 355.14,1211.28 356.84,1210.04 358.53,1208.80 360.22,1207.54 361.91,1206.26 363.61,1204.98 365.30,1203.68 366.99,1202.36 368.68,1201.04 370.38,1199.70 372.07,1198.34 373.76,1196.97 375.46,1195.58 377.15,1194.18 378.84,1192.77 380.53,1191.34 382.23,1189.89 383.92,1188.43 385.61,1186.95 387.31,1185.45 389.00,1183.94 390.69,1182.41 392.38,1180.86 394.08,1179.30 395.77,1177.72 397.46,1176.12 399.15,1174.50 400.85,1172.86 402.54,1171.20 404.23,1169.52 405.93,1167.82 407.62,1166.10 409.31,1164.36 411.00,1162.59 412.70,1160.80 414.39,1158.99 416.08,1157.15 417.77,1155.29 419.47,1153.41 421.16,1151.49 422.85,1149.55 424.55,1147.58 426.24,1145.57 427.93,1143.54 429.62,1141.47 431.32,1139.37 431.59,1139.03" stroke="#ff0000" stroke-dasharray="19.8 8.65" stroke-dashoffset="24.7"/>
<polyline points="431.59,1139.03 433.01,1137.24 434.70,1135.06 436.39,1132.84 438.09,1130.59 439.78,1128.28 441.47,1125.93 443.17,1123.53 444.86,1121.07 446.55,1118.54 448.24,1115.96 449.94,1113.30 451.63,1110.56 453.32,1107.73 455.02,1104.79 456.71,1101.74 458.40,1098.55 460.09,1095.19 461.79,1091.62 463.48,1087.78 465.17,1083.57 466.86,1078.78 468.56,1072.90 470.25,1060.53 471.94,1059.11 473.64,1057.68 475.33,1056.24 477.02,1054.81 478.71,1053.37 480.41,1051.93 482.10,1050.49 483.79,1049.05 485.48,1047.60 487.18,1046.15 488.87,1044.70 490.56,1043.24 492.26,1041.78 493.95,1040.32 495.64,1038.86 497.33,1037.39 499.03,1035.92 500.72,1034.45 502.41,1032.98 504.10,1031.50 505.80,1030.03 507.49,1028.54 509.18,1027.06 510.88,1025.57 512.57,1024.09 514.26,1022.59 515.95,1021.10 517.65,1019.60 519.34,1018.10 521.03,1016.60 522.73,1015.10 524.42,1013.59 526.11,1012.08 527.80,1010.57 529.50,1009.06 531.19,1007.54 532.88,1006.02 534.57,1004.50 536.27,1002.97 537.96,1001.45 539.65,999.92 541.35,998.38 543.04,996.85 544.73,995.31 546.42,993.77 548.12,992.23 549.81,990.69 551.50,989.14 553.19,987.59 554.89,986.04 556.58,984.48 558.27,982.93 559.97,981.37 561.66,979.80 563.35,978.24 565.04,976.67 566.74,975.10 568.43,973.53 570.12,971.96 571.81,970.38 573.51,968.80 575.20,967.22 576.89,965.63 578.59,964.05 580.28,962.46 581.97,960.87 583.66,959.27 585.36,957.68 587.05,956.08 588.74,954.48 590.44,952.87 592.13,951.27 593.82,949.66 595.51,948.05 597.21,946.43 598.90,944.82 600.59,943.20 602.28,941.58 603.98,939.96 605.67,938.33 607.36,936.70 609.06,935.07 610.75,933.44 612.44,931.80 614.13,930.17 615.83,928.53 617.52,926.88 619.21,925.24 620.90,923.59 622.60,921.94 624.29,920.29 625.98,918.64 627.68,916.98 629.37,915.32 631.06,913.66 632.75,912.00 634.45,910.33 636.14,908.66 637.83,906.99 639.52,905.32 641.22,903.64 642.91,901.96 644.60,900.28 646.30,898.60 647.99,896.91 649.68,895.23 651.37,893.54 653.07,891.85 654.76,890.15 656.45,888.45 658.15,886.76 659.84,885.05 661.53,883.35 663.22,881.64 664.92,879.94 666.61,878.22 668.30,876.51 669.99,874.80 671.69,873.08 673.38,871.36 675.07,869.64 676.77,867.91 678.46,866.18 680.15,864.45 681.84,862.72 683.54,860.99 685.23,859.25 686.92,857.51 688.61,855.77 690.31,854.03 692.00,852.28 693.69,850.54 695.39,848.79 697.08,847.03 698.77,845.28 700.46,843.52 702.16,841.76 703.85,840.00 705.54,838.24 707.23,836.47 708.93,834.70 710.62,832.93 712.31,831.16 714.01,829.39 715.70,827.61 717.39,825.83 719.08,824.05 720.78,822.26 722.47,820.48 724.16,818.69 725.86,816.90 727.55,815.10 729.24,813.31 730.93,811.51 732.63,809.71 734.32,807.91 736.01,806.10 737.70,804.30 739.40,802.49 741.09,800.68 742.78,798.86 744.48,797.05 746.17,795.23 747.86,793.41 749.55,791.59 751.25,789.76 752.94,787.94 754.63,786.11 756.32,784.28 758.02,782.44 759.71,780.61 761.40,778.77 763.10,776.93 764.79,775.09 766.48,773.24 768.17,771.40 769.87,769.55 771.56,767.69 773.25,765.84 774.94,763.99 776.64,762.13 778.33,760.27 780.02,758.41 781.72,756.54 783.41,754.67 785.10,752.81 786.79,750.93 788.49,749.06 790.18,747.19 791.87,745.31 793.57,743.43 795.26,741.55 796.95,739.66 798.64,737.78 800.34,735.89 802.03,734.00 803.72,732.10 805.41,730.21 807.11,728.31 808.80,726.41" stroke="#ff0000" stroke-dasharray="20.7 9"/>
<polyline points="131.70,1286.30 135.09,1286.14 138.47,1285.85 141.86,1285.47 145.24,1285.02 148.63,1284.51 152.01,1283.95 155.40,1283.34 158.78,1282.68 162.17,1281.98 165.55,1281.25 168.94,1280.47 172.33,1279.65 175.71,1278.81 179.10,1277.92 182.48,1277.01 185.87,1276.06 189.25,1275.09 192.64,1274.08 196.02,1273.05 199.41,1271.99 202.80,1270.90 206.18,1269.78 209.57,1268.64 212.95,1267.47 216.34,1266.28 219.72,1265.07 223.11,1263.83 226.49,1262.56 229.88,1261.28 233.26,1259.97 236.65,1258.64 240.04,1257.29 243.42,1255.91 246.81,1254.52 250.19,1253.10 253.58,1251.66 256.96,1250.20 260.35,1248.73 263.73,1247.23 267.12,1245.71 270.51,1244.18 273.89,1242.62 277.28,1241.04 280.66,1239.45 284.05,1237.84 287.43,1236.21 290.82,1234.56 294.20,1232.89 297.59,1231.21 300.97,1229.51 304.36,1227.79 307.75,1226.05 311.13,1224.30 314.52,1222.53 317.90,1220.74 321.29,1218.93 324.67,1217.11 328.06,1215.27 331.44,1213.42 334.83,1211.55 338.22,1209.66 341.60,1207.76 344.99,1205.85 348.37,1203.91 351.76,1201.96 355.14,1200.00 358.53,1198.02 361.91,1196.02 365.30,1194.01 368.68,1191.99 372.07,1189.95 375.46,1187.89 378.84,1185.82 382.23,1183.74 385.61,1181.64 389.00,1179.53 392.38,1177.40 395.77,1175.26 399.15,1173.10 402.54,1170.93 405.93,1168.75 409.31,1166.55 412.70,1164.34 416.08,1162.11 419.47,1159.87 422.85,1157.62 426.24,1155.35 429.62,1153.07 433.01,1150.78 436.39,1148.47 439.78,1146.15 443.17,1143.82 446.55,1141.47 449.94,1139.11 453.32,1136.74 456.71,1134.35 460.09,1131.95 463.48,1129.54 466.86,1127.11 470.25,1124.67 473.64,1122.22 477.02,1119.76 480.41,1117.29 483.79,1114.80 487.18,1112.30 490.56,1109.78 493.95,1107.26 497.33,1104.72 500.72,1102.17 504.10,1099.61 507.49,1097.03 510.88,1094.45 514.26,1091.85 517.65,1089.24 521.03,1086.61 524.42,1083.98 527.80,1081.33 531.19,1078.67 534.57,1076.00 537.96,1073.32 541.35,1070.63 544.73,1067.92 548.12,1065.20 551.50,1062.47 554.89,1059.73 558.27,1056.98 561.66,1054.22 565.04,1051.44 568.43,1048.66 571.81,1045.86 575.20,1043.05 578.59,1040.23 581.97,1037.40 585.36,1034.56 588.74,1031.70 592.13,1028.84 595.51,1025.96 598.90,1023.07 602.28,1020.17 605.67,1017.26 609.06,1014.34 612.44,1011.41 615.83,1008.47 619.21,1005.52 622.60,1002.55 625.98,999.58 629.37,996.59 632.75,993.60 636.14,990.59 639.52,987.57 642.91,984.54 646.30,981.50 649.68,978.45 653.07,975.39 656.45,972.32 659.84,969.24 663.22,966.15 666.61,963.04 669.99,959.93 673.38,956.81 676.77,953.67 680.15,950.53 683.54,947.38 686.92,944.21 690.31,941.04 693.69,937.85 697.08,934.66 700.46,931.45 703.85,928.23 707.23,925.01 710.62,921.77 714.01,918.52 717.39,915.27 720.78,912.00 724.16,908.73 727.55,905.44 730.93,902.14 734.32,898.84 737.70,895.52 741.09,892.19 744.48,888.86 747.86,885.51 751.25,882.15 754.63,878.79 758.02,875.41 761.40,872.03 764.79,868.63 768.17,865.23 771.56,861.81 774.94,858.39 778.33,854.95 781.72,851.51 785.10,848.06 788.49,844.59 791.87,841.12 795.26,837.64 798.64,834.15 802.03,830.64 805.41,827.13 808.80,823.61" stroke="#000000"/>
<polyline points="131.70,1286.30 133.39,1286.30 135.09,1286.30 136.78,1286.30 138.47,1286.30 140.16,1286.30 141.86,1286.30 143.55,1286.30 145.24,1286.30 146.93,1286.30 148.63,1286.30 150.32,1286.30 152.01,1286.30 153.71,1286.30 155.40,1286.30 157.09,1286.30 158.78,1286.30 160.48,1286.30 162.17,1286.30 163.86,1286.30 165.55,1286.30 167.25,1286.30 168.94,1286.30 170.63,1286.30 172.33,1286.30 174.02,1286.30 175.71,1286.30 177.40,1286.30 179.10,1286.30 180.79,1286.30 182.48,1286.30 184.18,1286.30 185.87,1286.30 187.56,1286.30 189.25,1286.30 190.95,1286.30 192.64,1286.30 194.33,1286.30 196.02,1286.30 197.72,1286.30 199.41,1286.30 201.10,1286.30 202.80,1286.30 204.49,1286.30 206.18,1286.30 207.87,1286.30 209.57,1286.30 211.26,1286.30 212.95,1286.30 214.64,1286.30 216.34,1286.30 218.03,1286.30 219.72,1286.30 221.42,1286.30 223.11,1286.30 224.80,1286.30 226.49,1286.30 228.19,1286.30 229.88,1286.30 231.57,1286.30 233.26,1286.30 234.96,1286.30 236.65,1286.30 238.34,1286.30 240.04,1286.30 241.73,1286.30 243.42,1286.30 245.11,1286.30 246.81,1286.30 248.50,1286.30 250.19,1286.30 251.89,1286.30 253.58,1286.30 255.27,1286.30 256.96,1286.30 258.66,1286.30 260.35,1286.30 262.04,1286.30 263.73,1286.30 265.43,1286.30 267.12,1286.30 268.81,1286.30 270.51,1286.30 272.20,1286.30 273.89,1286.30 275.58,1286.30 277.28,1286.30 278.97,1286.30 280.66,1286.30 282.35,1286.30 284.05,1286.30 285.74,1286.30 287.43,1286.30 289.13,1286.30 290.82,1286.30 292.51,1286.30 294.20,1286.30 295.90,1286.30 297.59,1286.30 299.28,1286.30 300.97,1286.30 302.67,1286.30 304.36,1286.30 306.05,1286.30 307.75,1286.30 309.44,1286.30 311.13,1286.30 312.82,1286.30 314.52,1286.30 316.21,1286.30 317.90,1286.30 319.60,1286.30 321.29,1286.30 322.98,1286.30 324.67,1286.30 326.37,1286.30 328.06,1286.30 329.75,1286.30 331.44,1286.30 333.14,1286.30 334.83,1286.30 336.52,1286.30 338.22,1286.30 339.91,1286.30 341.60,1286.30 343.29,1286.30 344.99,1286.30 346.68,1286.30 348.37,1286.30 350.06,1286.30 351.76,1286.30 353.45,1286.30 355.14,1286.30 356.84,1286.30 358.53,1286.30 360.22,1286.30 361.91,1286.30 363.61,1286.30 365.30,1286.30 366.99,1286.30 368.68,1286.30 370.38,1286.30 372.07,1286.30 373.76,1286.30 375.46,1286.30 377.15,1286.30 378.84,1286.30 380.53,1286.30 382.23,1286.30 383.92,1286.30 385.61,1286.30 387.31,1286.30 389.00,1286.30 390.69,1286.30 392.38,1286.30 394.08,1286.30 395.77,1286.30 397.46,1286.30 399.15,1286.30 400.85,1286.30 402.54,1286.30 404.23,1286.30 405.93,1286.30 407.62,1286.30 409.31,1286.30 411.00,1286.30 412.70,1286.30 414.39,1286.30 416.08,1286.30 417.77,1286.30 419.47,1286.30 421.16,1286.30 422.85,1286.30 424.55,1286.30 426.24,1286.30 427.93,1286.30 429.62,1286.30 431.32,1286.30 433.01,1286.30 434.70,1286.30 436.39,1286.30 438.09,1286.30 439.78,1286.30 441.47,1286.30 443.17,1286.30 444.86,1286.30 446.55,1286.30 448.24,1286.30 449.94,1286.30 451.63,1286.30 453.32,1286.30 455.02,1286.30 456.71,1286.30 458.40,1286.30 460.09,1286.30 461.79,1286.30 463.48,1286.30 465.17,1286.30 466.86,1286.30 468.56,1286.30 470.25,1286.30 471.94,1274.67 473.64,1269.78 475.33,1265.96 477.02,1262.70 478.71,1259.78 480.41,1257.11 482.10,1254.61 483.79,1252.26 485.48,1250.02 487.18,1247.87 488.87,1245.80 490.56,1243.80 492.26,1241.85 493.95,1239.95 495.64,1238.10 497.33,1236.28 499.03,1234.50 500.72,1232.75 502.41,1231.03 504.10,1229.33 505.80,1227.65 507.49,1226.00 509.18,1224.36 510.88,1222.74 512.57,1221.14 514.26,1219.55 515.95,1217.97 517.65,1216.41 519.34,1214.85 521.03,1213.31 522.73,1211.78 524.42,1210.25 526.11,1208.74 527.80,1207.23 529.50,1205.72 531.19,1204.23 532.88,1202.74 534.57,1201.26 536.27,1199.78 537.96,1198.30 539.65,1196.83 541.35,1195.37 543.04,1193.91 544.73,1192.45 546.42,1190.99 548.12,1189.54 549.81,1188.09 551.50,1186.64 553.19,1185.20 554.89,1183.76 556.58,1182.32 558.27,1180.88 559.97,1179.44 561.66,1178.00 563.35,1176.57 565.04,1175.13 566.74,1173.70 568.43,1172.27 570.12,1170.84 571.81,1169.41 573.51,1167.98 575.20,1166.55 576.89,1165.12 578.59,1163.69 580.28,1162.26 581.97,1160.83 583.66,1159.40 585.36,1157.97 587.05,1156.54 588.74,1155.11 590.44,1153.68 592.13,1152.24 593.82,1150.81 595.51,1149.38 597.21,1147.95 598.90,1146.51 600.59,1145.08 602.28,1143.64 603.98,1142.21 605.67,1140.77 607.36,1139.33 609.06,1137.89 610.75,1136.45 612.44,1135.01 614.13,1133.57 615.83,1132.12 617.52,1130.68 619.21,1129.23 620.90,1127.78 622.60,1126.33 624.29,1124.88 625.98,1123.43 627.68,1121.98 629.37,1120.52 631.06,1119.07 632.75,1117.61 634.45,1116.15 636.14,1114.69 637.83,1113.23 639.52,1111.76 641.22,1110.30 642.91,1108.83 644.60,1107.36 646.30,1105.89 647.99,1104.42 649.68,1102.94 651.37,1101.47 653.07,1099.99 654.76,1098.51 656.45,1097.03 658.15,1095.55 659.84,1094.06 661.53,1092.58 663.22,1091.09 664.92,1089.60 666.61,1088.11 668.30,1086.61 669.99,1085.12 671.69,1083.62 673.38,1082.12 675.07,1080.62 676.77,1079.11 678.46,1077.61 680.15,1076.10 681.84,1074.59 683.54,1073.08 685.23,1071.56 686.92,1070.05 688.61,1068.53 690.31,1067.01 692.00,1065.49 693.69,1063.96 695.39,1062.44 697.08,1060.91 698.77,1059.38 700.46,1057.85 702.16,1056.31 703.85,1054.78 705.54,1053.24 707.23,1051.70 708.93,1050.16 710.62,1048.61 712.31,1047.06 714.01,1045.52 715.70,1043.96 717.39,1042.41 719.08,1040.86 720.78,1039.30 722.47,1037.74 724.16,1036.18 725.86,1034.61 727.55,1033.05 729.24,1031.48 730.93,1029.91 732.63,1028.33 734.32,1026.76 736.01,1025.18 737.70,1023.60 739.40,1022.02 741.09,1020.44 742.78,1018.85 744.48,1017.26 746.17,1015.67 747.86,1014.08 749.55,1012.49 751.25,1010.89 752.94,1009.29 754.63,1007.69 756.32,1006.08 758.02,1004.48 759.71,1002.87 761.40,1001.26 763.10,999.65 764.79,998.03 766.48,996.42 768.17,994.80 769.87,993.17 771.56,991.55 773.25,989.92 774.94,988.30 776.64,986.67 778.33,985.03 780.02,983.40 781.72,981.76 783.41,980.12 785.10,978.48 786.79,976.84 788.49,975.19 790.18,973.54 791.87,971.89 793.57,970.24 795.26,968.58 796.95,966.92 798.64,965.27 800.34,963.60 802.03,961.94 803.72,960.27 805.41,958.60 807.11,956.93 808.80,955.26" stroke="#0000ff" stroke-dasharray="3 8.6 21 9.03"/>
</g>
<path d="M267.12 1286.30L267.12 1270.80M267.12 688.40L267.12 703.90M402.54 1286.30L402.54 1270.80M402.54 688.40L402.54 703.90M537.96 1286.30L537.96 1270.80M537.96 688.40L537.96 703.90M673.38 1286.30L673.38 1270.80M673.38 688.40L673.38 703.90M131.70 1087.00L147.20 1087.00M808.80 1087.00L793.30 1087.00M131.70 887.70L147.20 887.70M808.80 887.70L793.30 887.70" stroke="#000" stroke-width="2.2" fill="none"/>
<path d="M165.55 1286.30L165.55 1278.50M165.55 688.40L165.55 696.20M199.41 1286.30L199.41 1278.50M199.41 688.40L199.41 696.20M233.26 1286.30L233.26 1278.50M233.26 688.40L233.26 696.20M300.97 1286.30L300.97 1278.50M300.97 688.40L300.97 696.20M334.83 1286.30L334.83 1278.50M334.83 688.40L334.83 696.20M368.68 1286.30L368.68 1278.50M368.68 688.40L368.68 696.20M436.39 1286.30L436.39 1278.50M436.39 688.40L436.39 696.20M470.25 1286.30L470.25 1278.50M470.25 688.40L470.25 696.20M504.10 1286.30L504.10 1278.50M504.10 688.40L504.10 696.20M571.81 1286.30L571.81 1278.50M571.81 688.40L571.81 696.20M605.67 1286.30L605.67 1278.50M605.67 688.40L605.67 696.20M639.52 1286.30L639.52 1278.50M639.52 688.40L639.52 696.20M707.23 1286.30L707.23 1278.50M707.23 688.40L707.23 696.20M741.09 1286.30L741.09 1278.50M741.09 688.40L741.09 696.20M774.94 1286.30L774.94 1278.50M774.94 688.40L774.94 696.20M131.70 1246.44L139.50 1246.44M808.80 1246.44L801.00 1246.44M131.70 1206.58L139.50 1206.58M808.80 1206.58L801.00 1206.58M131.70 1166.72L139.50 1166.72M808.80 1166.72L801.00 1166.72M131.70 1126.86L139.50 1126.86M808.80 1126.86L801.00 1126.86M131.70 1047.14L139.50 1047.14M808.80 1047.14L801.00 1047.14M131.70 1007.28L139.50 1007.28M808.80 1007.28L801.00 1007.28M131.70 967.42L139.50 967.42M808.80 967.42L801.00 967.42M131.70 927.56L139.50 927.56M808.80 927.56L801.00 927.56M131.70 847.84L139.50 847.84M808.80 847.84L801.00 847.84M131.70 807.98L139.50 807.98M808.80 807.98L801.00 807.98M131.70 768.12L139.50 768.12M808.80 768.12L801.00 768.12M131.70 728.26L139.50 728.26M808.80 728.26L801.00 728.26" stroke="#000" stroke-width="1.7" fill="none"/>
<rect x="131.7" y="688.4" width="677.10" height="597.90" fill="none" stroke="#000" stroke-width="2.2" stroke-linejoin="round"/>
<text x="101.67" y="1299.20" font-size="36">0</text>
<text x="100.76" y="1099.90" font-size="36">1</text>
<text x="102.29" y="900.60" font-size="36">2</text>
<text x="100.01" y="701.30" font-size="36">3</text>
<text x="122.90" y="1318.20" font-size="36">0</text>
<text x="236.13" y="1318.20" font-size="36">0.02</text>
<text x="370.84" y="1318.20" font-size="36">0.04</text>
<text x="506.51" y="1318.20" font-size="36">0.06</text>
<text x="642.08" y="1318.20" font-size="36">0.08</text>
<text x="786.90" y="1318.20" font-size="36">0.1</text>
<line x1="181.1" y1="746.1" x2="260.6" y2="746.1" stroke="#ff0000" stroke-width="3.4" stroke-dasharray="20.7 9"/>
<text x="276.91" y="754.90" font-size="28.2">m/b=0.95</text>
<line x1="181.1" y1="774.9" x2="260.6" y2="774.9" stroke="#000000" stroke-width="3.4"/>
<text x="276.91" y="783.70" font-size="28.2">m/b=1</text>
<line x1="181.1" y1="803.4" x2="260.6" y2="803.4" stroke="#0000ff" stroke-width="3.4" stroke-dasharray="3 8.6 21 9.03"/>
<text x="276.91" y="812.20" font-size="28.2">m/b=1.05</text>
<text x="748.44" y="1260.40" font-size="31">(b)</text>
<text x="444.08" y="1352.80" font-size="39" stroke="#000" stroke-width="0.6">ω</text>
<text x="468.80" y="1352.80" font-size="37">/b</text>
<g transform="translate(57.9,1127.0) rotate(-90)">
<text x="-1.08" y="0.00" font-size="37.5">N</text>
<text x="25.75" y="0.00" font-size="37.5">(</text>
<text x="40.38" y="0.00" font-size="39" stroke="#000" stroke-width="0.6">ω</text>
<text x="63.99" y="0.00" font-size="37.5">)</text>
<text x="75.80" y="0.00" font-size="37.5">/</text>
<text x="90.00" y="0.00" font-size="37.5">b</text>
<text x="105.36" y="-22.10" font-size="26">2</text>
<text x="127.85" y="0.00" font-size="37.5">(</text>
<text x="140.00" y="0.00" font-size="37.5">1</text>
<text x="155.30" y="0.00" font-size="37.5">/</text>
<text x="167.62" y="0.00" font-size="37.5">[</text>
<text x="180.25" y="0.00" font-size="37.5" font-style="italic">ħ</text>
<text x="201.90" y="0.00" font-size="38">v</text>
<text x="218.48" y="14.00" font-size="25">F</text>
<text x="230.35" y="0.00" font-size="37.5">]</text>
<text x="244.26" y="-22.10" font-size="26">3</text>
<text x="257.67" y="0.00" font-size="37.5">x</text>
<text x="275.30" y="0.00" font-size="37.5">1</text>
<text x="292.47" y="0.00" font-size="37.5">0</text>
<text x="312.14" y="-14.70" font-size="26">-</text>
<text x="319.26" y="-14.70" font-size="26">3</text>
<text x="332.49" y="0.00" font-size="37.5">)</text>
</g>
</svg>
</body></html>
